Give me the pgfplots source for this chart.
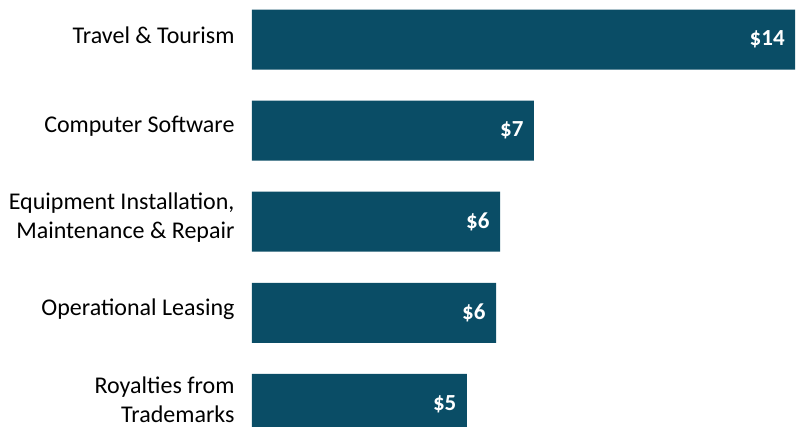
\documentclass[border=0pt]{standalone}
\usepackage{pgfplots}
\pgfplotsset{compat=1.18}
\usepackage{fontspec}
\setmainfont{Carlito}
\definecolor{barc}{HTML}{0A4D66}
\begin{document}
\begin{tikzpicture}[x=1pt,y=1pt]
\useasboundingbox (0,0) rectangle (796,427);
\begin{axis}[
  at={(252pt,0pt)}, anchor=south west,
  scale only axis, width=544pt, height=427pt,
  xbar, bar width=0.659,
  xmin=0, xmax=13.62,
  ymin=-0.434, ymax=4.254, y dir=reverse,
  ytick={0,1,2,3,4},
  yticklabels={Travel \& Tourism, Computer Software, {Equipment Installation,\\Maintenance \& Repair}, Operational Leasing, {Royalties from\\Trademarks}},
  yticklabel style={align=right, font=\fontsize{24}{28.5}\selectfont, text=black, inner ysep=0pt},
  y tick label style={xshift=-14pt, yshift=4pt},
  xtick=\empty,
  axis line style={draw=none},
  major tick length=0pt,
  point meta=explicit symbolic,
  nodes near coords,
  nodes near coords style={anchor=east, xshift=-7pt, text=white, font=\fontsize{23}{26}\selectfont\bfseries},
]
\addplot[fill=barc, draw=none] table[meta=lab] {
x y lab
13.6 0 \$14
7.06 1 \$7
6.21 2 \$6
6.11 3 \$6
5.38 4 \$5
};
\end{axis}
\end{tikzpicture}
\end{document}
